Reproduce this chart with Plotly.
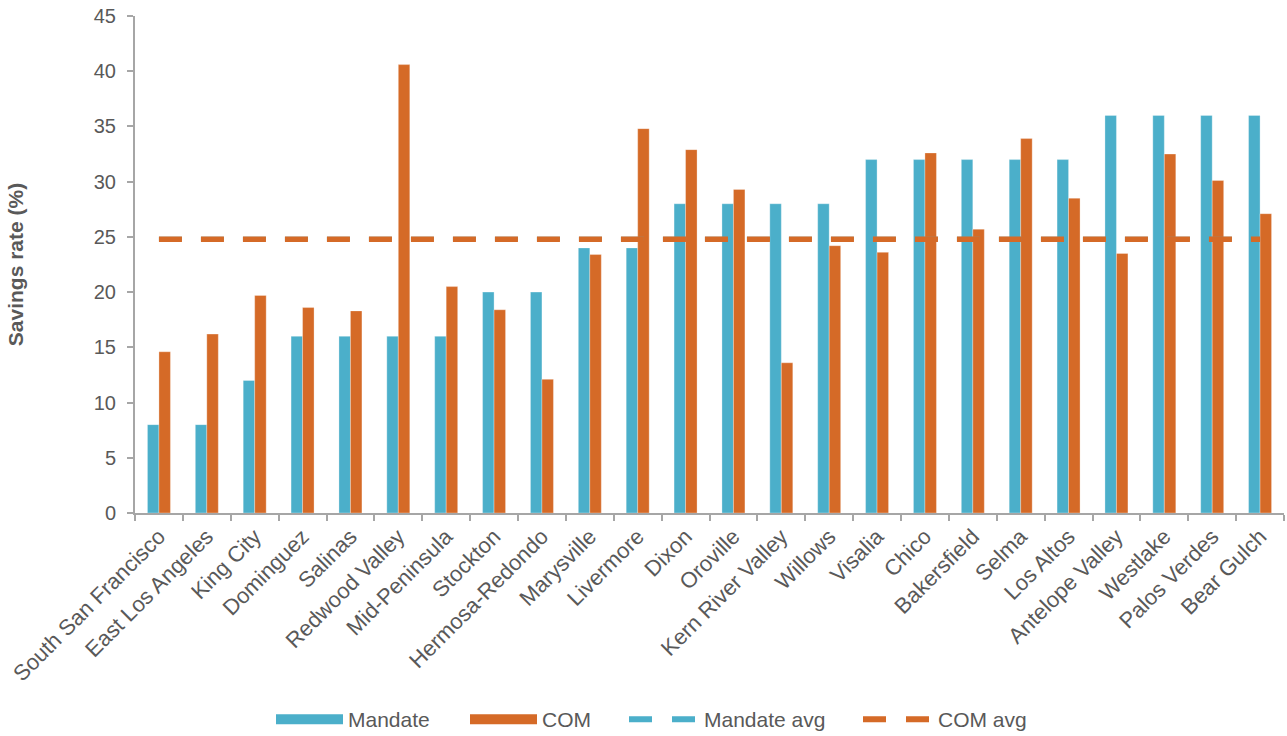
import numpy as np
import plotly.graph_objects as go

# Regions and savings rates (%)
regions = [
    "South San Francisco", "East Los Angeles", "King City", "Dominguez", "Salinas",
    "Redwood Valley", "Mid-Peninsula", "Stockton", "Hermosa-Redondo", "Marysville",
    "Livermore", "Dixon", "Oroville", "Kern River Valley", "Willows", "Visalia",
    "Chico", "Bakersfield", "Selma", "Los Altos", "Antelope Valley", "Westlake",
    "Palos Verdes", "Bear Gulch",
]
mandate = [8, 8, 12, 16, 16, 16, 16, 20, 20, 24, 24, 28,
           28, 28, 28, 32, 32, 32, 32, 32, 36, 36, 36, 36]
com = [14.6, 16.2, 19.7, 18.6, 18.3, 40.6, 20.5, 18.4, 12.1, 23.4, 34.8, 32.9,
       29.3, 13.6, 24.2, 23.6, 32.6, 25.7, 33.9, 28.5, 23.5, 32.5, 30.1, 27.1]
y_ticks = [0, 5, 10, 15, 20, 25, 30, 35, 40, 45]

mandate_avg = float(np.mean(mandate))
com_avg = float(np.mean(com))

TEAL = "#4BAFCA"
ORANGE = "#D56A27"
GREY_TEXT = "#595959"
AXIS = "#A6A6A6"
FONT = "Liberation Sans, Arial, sans-serif"

# plot area geometry (px)
L, R, T, B = 135, 3, 16, 223
W, H = 1287, 736
PLOT_W = W - L - R
PLOT_H = H - T - B


def px_to_paper_x(px):
    return (px - L) / PLOT_W


def px_to_paper_y(py):
    return (H - B - py) / PLOT_H


fig = go.Figure()

fig.add_trace(go.Bar(x=regions, y=mandate, name="Mandate", marker_color=TEAL,
                     marker_line=dict(color="rgba(255,255,255,0.6)", width=0.5),
                     showlegend=False, legendgroup="m"))
fig.add_trace(go.Bar(x=regions, y=com, name="COM", marker_color=ORANGE,
                     marker_line=dict(color="rgba(255,255,255,0.6)", width=0.5),
                     showlegend=False, legendgroup="c"))

dash_style = "23px,19px"
fig.add_trace(go.Scatter(x=regions, y=[mandate_avg] * len(regions), mode="lines",
                         name="Mandate avg", line=dict(color=TEAL, width=4, dash=dash_style),
                         showlegend=False, legendgroup="ma"))
fig.add_trace(go.Scatter(x=regions, y=[com_avg] * len(regions), mode="lines",
                         name="COM avg", line=dict(color=ORANGE, width=5.5, dash=dash_style),
                         showlegend=False, legendgroup="ca"))

# Legend entries: each in its own legend box so spacing can be set freely
legend_items = [
    ("Mandate", TEAL, "solid", 11, "m", "legend", 271, 67),
    ("COM", ORANGE, "solid", 11, "c", "legend2", 465, 67),
    ("Mandate avg", TEAL, "23px,20px", 6, "ma", "legend3", 624, 70),
    ("COM avg", ORANGE, "23px,20px", 6, "ca", "legend4", 858, 70),
]
legend_layout = {}
for name, color, dash, width, grp, lg, left_px, iw in legend_items:
    fig.add_trace(go.Scatter(x=[None], y=[None], mode="lines", name=name,
                             line=dict(color=color, width=width, dash=dash),
                             legendgroup=grp, legend=lg, showlegend=True,
                             hoverinfo="skip"))
    legend_layout[lg] = dict(
        orientation="h", x=px_to_paper_x(left_px), xanchor="left",
        y=px_to_paper_y(719.5), yanchor="middle", itemwidth=iw,
        font=dict(size=21, color=GREY_TEXT, family=FONT),
        bgcolor="rgba(0,0,0,0)",
    )

fig.update_layout(
    width=W, height=H,
    margin=dict(l=L, r=R, t=T, b=B, autoexpand=False),
    paper_bgcolor="white", plot_bgcolor="white",
    font=dict(family=FONT, size=19, color=GREY_TEXT),
    barmode="group", bargap=0.52, bargroupgap=0.0,
    **legend_layout,
)
fig.update_xaxes(
    tickangle=-45, tickson="boundaries", ticks="outside", ticklen=6, tickwidth=1.5,
    tickcolor=AXIS, showline=True, linecolor=AXIS, linewidth=2, showgrid=False,
    tickfont=dict(size=22, color=GREY_TEXT), automargin=False,
)
fig.update_yaxes(
    range=[0, 45], tickvals=y_ticks, ticks="outside", ticklen=6, tickwidth=1.5,
    tickcolor=AXIS, showline=True, linecolor=AXIS, linewidth=2, showgrid=False,
    zeroline=False, tickfont=dict(size=20, color=GREY_TEXT), ticklabelstandoff=7,
    automargin=False,
    title=dict(text="<b>Savings rate (%)</b>", standoff=64,
               font=dict(size=21, color=GREY_TEXT)),
)

fig.write_html("out.html")
